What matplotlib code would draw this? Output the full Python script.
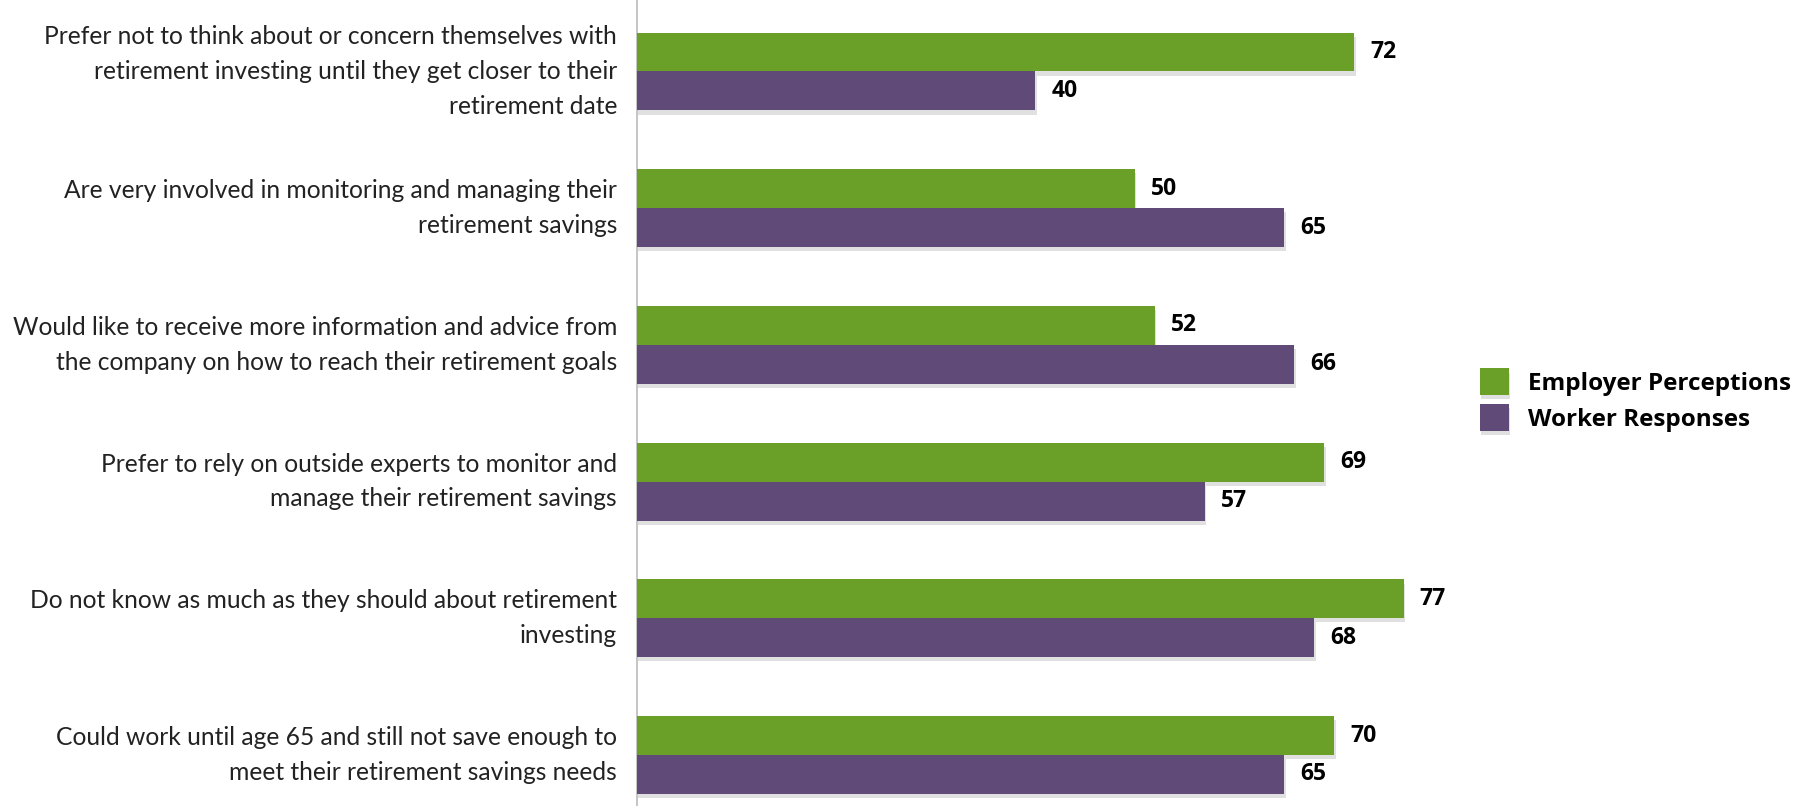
import matplotlib.pyplot as plt
import matplotlib.patheffects as pe
import numpy as np

categories = [
    "Prefer not to think about or concern themselves with\nretirement investing until they get closer to their\nretirement date",
    "Are very involved in monitoring and managing their\nretirement savings",
    "Would like to receive more information and advice from\nthe company on how to reach their retirement goals",
    "Prefer to rely on outside experts to monitor and\nmanage their retirement savings",
    "Do not know as much as they should about retirement\ninvesting",
    "Could work until age 65 and still not save enough to\nmeet their retirement savings needs",
]
employer = [72, 50, 52, 69, 77, 70]
worker = [40, 65, 66, 57, 68, 65]
series_names = ["Employer Perceptions", "Worker Responses"]

green = "#6aa028"
purple = "#604a78"

plt.rcParams['font.family'] = ['Lato', 'DejaVu Sans']
bold_font = ['Open Sans', 'DejaVu Sans']

fig = plt.figure(figsize=(18.10, 8.06), dpi=100)
ax = fig.add_axes([637 / 1810, 0, 996 / 1810, 1])

y = np.arange(len(categories))
h = 0.285
shadow = [pe.SimplePatchShadow(offset=(1, -3), shadow_rgbFace="#000000", alpha=0.12), pe.Normal()]
b1 = ax.barh(y - h / 2, employer, height=h, color=green, label=series_names[0], path_effects=shadow, zorder=3)
b2 = ax.barh(y + h / 2, worker, height=h, color=purple, label=series_names[1], path_effects=shadow, zorder=3)

for bars, vals in ((b1, employer), (b2, worker)):
    for bar, v in zip(bars, vals):
        ax.text(v + 1.6, bar.get_y() + bar.get_height() / 2, str(v), va="center", ha="left",
                fontsize=16.5, fontweight="bold", family=bold_font)

for yi, lab in zip(y, categories):
    ax.text(-2, yi, lab, ha="right", va="center", fontsize=17.7, linespacing=1.62, color="#222222")

ax.set_xlim(0, 100)
ax.set_ylim(5.373, -0.523)
ax.set_xticks([])
ax.set_yticks([])
for s in ["top", "right", "bottom"]:
    ax.spines[s].set_visible(False)
ax.spines["left"].set_color("#bbbbbb")
ax.spines["left"].set_linewidth(1.2)

fig.legend(handles=[b1, b2], labels=series_names, loc="center left", bbox_to_anchor=(1458 / 1810, 1 - 400 / 806),
           frameon=False, prop={"weight": "bold", "size": 17.5, "family": bold_font}, handlelength=1.2,
           handleheight=1.3, handletextpad=0.8, labelspacing=0.35)

fig.savefig("out.png", dpi=100)
